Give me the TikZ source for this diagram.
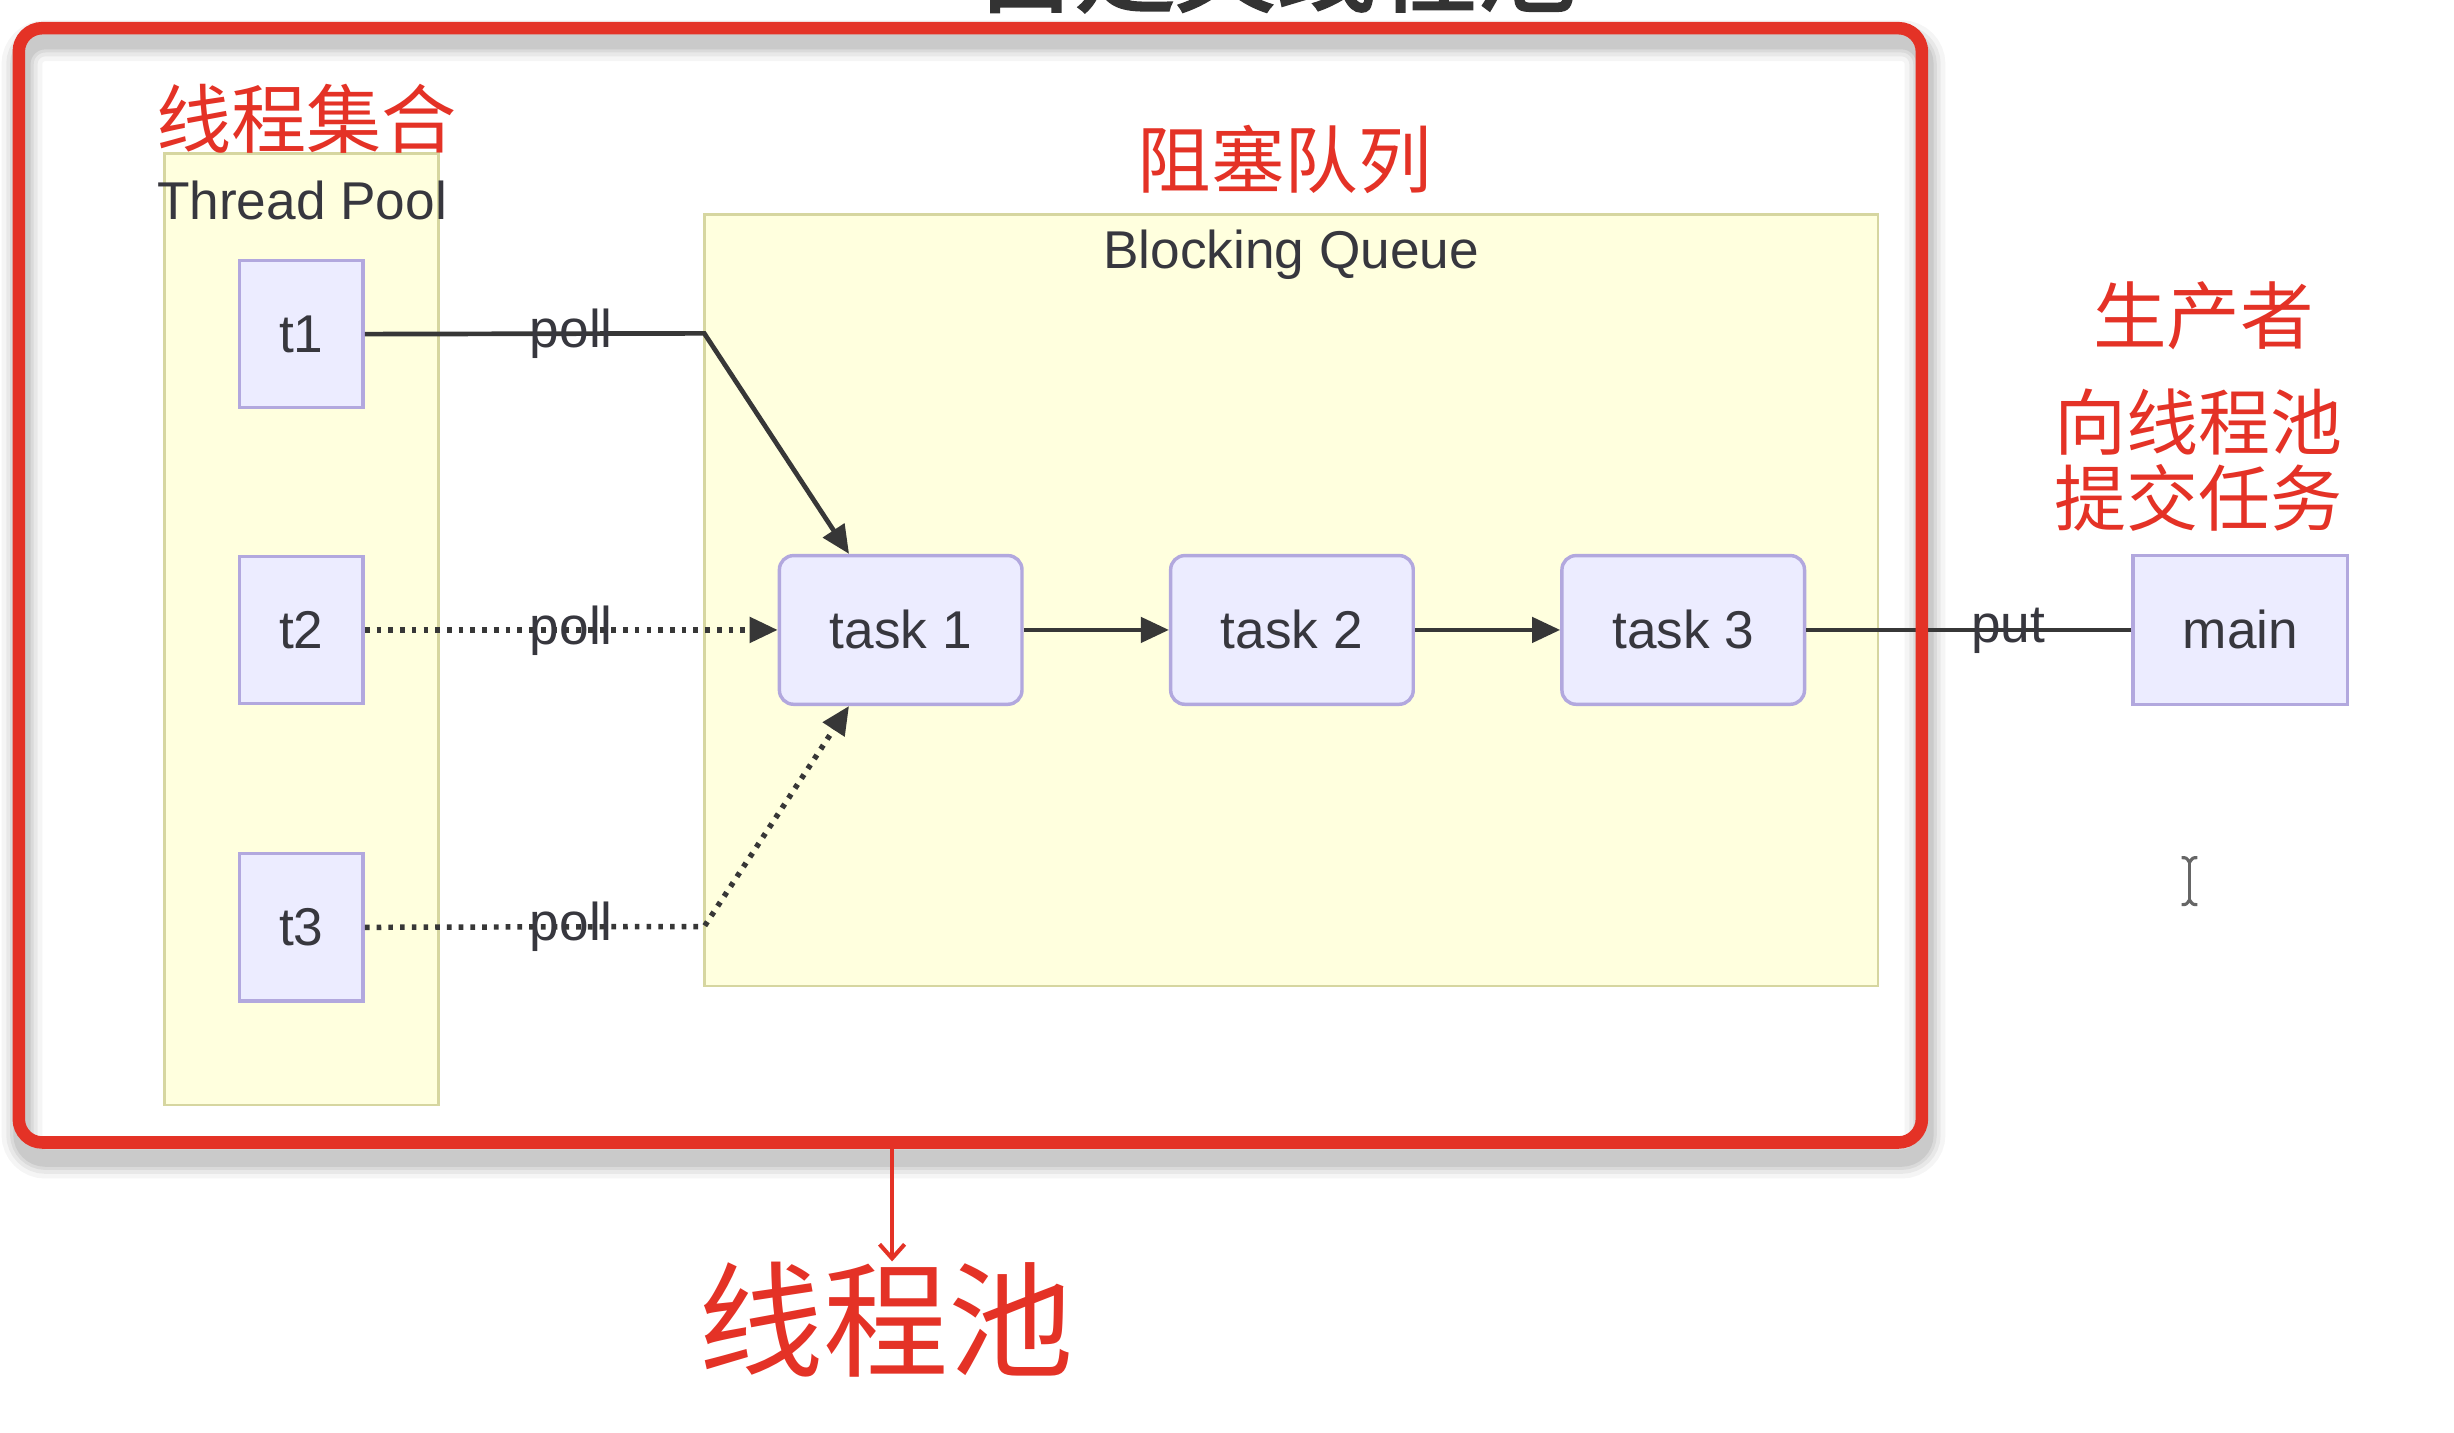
\documentclass[tikz,border=0pt]{standalone}
\usepackage{fontspec}
\setmainfont{Liberation Sans}
\newfontfamily\cjk{Noto Sans CJK SC}
\newfontfamily\cjkbold[FakeBold=2.5]{Noto Sans CJK SC}
\usetikzlibrary{arrows.meta,calc}
\definecolor{redmark}{RGB}{228,50,38}
\definecolor{clusterfill}{RGB}{255,255,222}
\definecolor{clusterline}{RGB}{214,214,160}
\definecolor{nodefill}{RGB}{236,236,255}
\definecolor{nodeline}{RGB}{178,168,222}
\definecolor{edgegray}{RGB}{55,55,55}
\definecolor{textgray}{RGB}{55,55,62}
\newcommand{\nfont}{\fontsize{34}{40}\selectfont}
\begin{document}
\begin{tikzpicture}[x=1pt,y=-1pt,
  cluster/.style={draw=clusterline, fill=clusterfill, line width=1.8pt},
  thread/.style={draw=nodeline, fill=nodefill, line width=2.2pt, minimum width=79pt,
    minimum height=94pt, inner sep=0pt, font=\nfont, text=textgray},
  taskbox/.style={thread, rounded corners=9pt, minimum width=155pt, minimum height=95pt},
  mainbox/.style={thread, minimum width=137pt, minimum height=95pt},
  edge/.style={draw=edgegray, line width=3pt},
  tip/.style={-{Triangle[length=18pt,width=16pt]}},
  arr/.style={edge, tip},
  dotline/.style={edge, line width=3.5pt, dash pattern=on 3pt off 4.5pt},
  lbl/.style={font=\nfont, text=textgray, inner sep=0pt},
  redtext/.style={text=redmark, inner sep=0pt, align=center},
  frame/.style={draw=redmark, line width=8pt, rounded corners=15pt}
]
\useasboundingbox (0,0) rectangle (1568,915);
\fill[white] (0,0) rectangle (1568,915);

% cut-off title at the top
\node[anchor=base, text=black!80, inner sep=0pt, font=\cjkbold\fontsize{64}{64}\selectfont] (title) at (815,2.5) {自定义线程池};

% shadow of the red frame
\foreach \w/\o in {26/0.04,20/0.05,15/0.06,11/0.07} {
  \draw[black, opacity=\o, line width=\w pt, rounded corners=15pt] (14,26) rectangle (1230,740);
}

% clusters
\node[cluster, minimum width=175pt, minimum height=608pt, inner sep=0pt] (pool) at (192.5,402) {};
\node[cluster, minimum width=750pt, minimum height=493pt, inner sep=0pt] (queue) at (825,383.5) {};
\node[lbl] (poollbl) at (193,128) {Thread Pool};
\node[lbl] (queuelbl) at (825,163) {Blocking Queue};

% thread nodes
\node[thread] (t1) at (192.5,213.5) {t1};
\node[thread] (t2) at (192.5,402.5) {t2};
\node[thread] (t3) at (192.5,592.5) {t3};

% tasks
\node[taskbox] (task1) at (575.5,402.5) {task 1};
\node[taskbox] (task2) at (825.5,402.5) {task 2};
\node[taskbox] (task3) at (1075.5,402.5) {task 3};
\node[mainbox] (main) at (1431.5,402.5) {main};

% connectors
\coordinate (b1) at (450,213);
\coordinate (b3) at (450,592);
\draw[arr] (t1.east) -- (b1) -- ($(task1.north west)!0.29!(task1.north east)$);
\draw[dotline, tip] (t2.east) -- (task1.west);
\draw[dotline, tip] (t3.east) -- (b3) -- ($(task1.south west)!0.29!(task1.south east)$);
\draw[arr] (task1.east) -- (task2.west);
\draw[arr] (task2.east) -- (task3.west);
\draw[edge] (main.west) -- (task3.east);

% edge labels
\node[lbl] (l1) at (365,213) {poll};
\node[lbl] (l2) at (365,403) {poll};
\node[lbl] (l3) at (365,592) {poll};
\node[lbl] (l4) at (1283,403) {put};

% red frame
\draw[frame] (12,18) rectangle (1228,730);

% red annotations
\node[redtext, font=\cjk\fontsize{48}{48}\selectfont] (lbl1) at (196,76) {线程集合};
\node[redtext, font=\cjk\fontsize{47}{47}\selectfont] (lbl2) at (821,102) {阻塞队列};
\node[redtext, font=\cjk\fontsize{47}{47}\selectfont] (lbl3) at (1408,202) {生产者};
\node[redtext, font=\cjk\fontsize{46}{48}\selectfont] (lbl4) at (1405,294) {向线程池\\提交任务};
\node[redtext, font=\cjk\fontsize{80}{80}\selectfont] (lbl5) at (566,843) {线程池};
\coordinate (fb) at (570,734);
\draw[redmark, line width=2.6pt, -{Straight Barb[length=9pt,width=16pt,line width=2.6pt]}] (fb) -- (lbl5.north -| fb);

% text cursor
\draw[black!60, line width=2.4pt] (1399,550) -- (1399,576);
\draw[black!60, line width=2pt] (1394,548) .. controls (1397,548) .. (1399,551) .. controls (1401,548) .. (1404,548);
\draw[black!60, line width=2pt] (1394,578) .. controls (1397,578) .. (1399,575) .. controls (1401,578) .. (1404,578);
\end{tikzpicture}
\end{document}
